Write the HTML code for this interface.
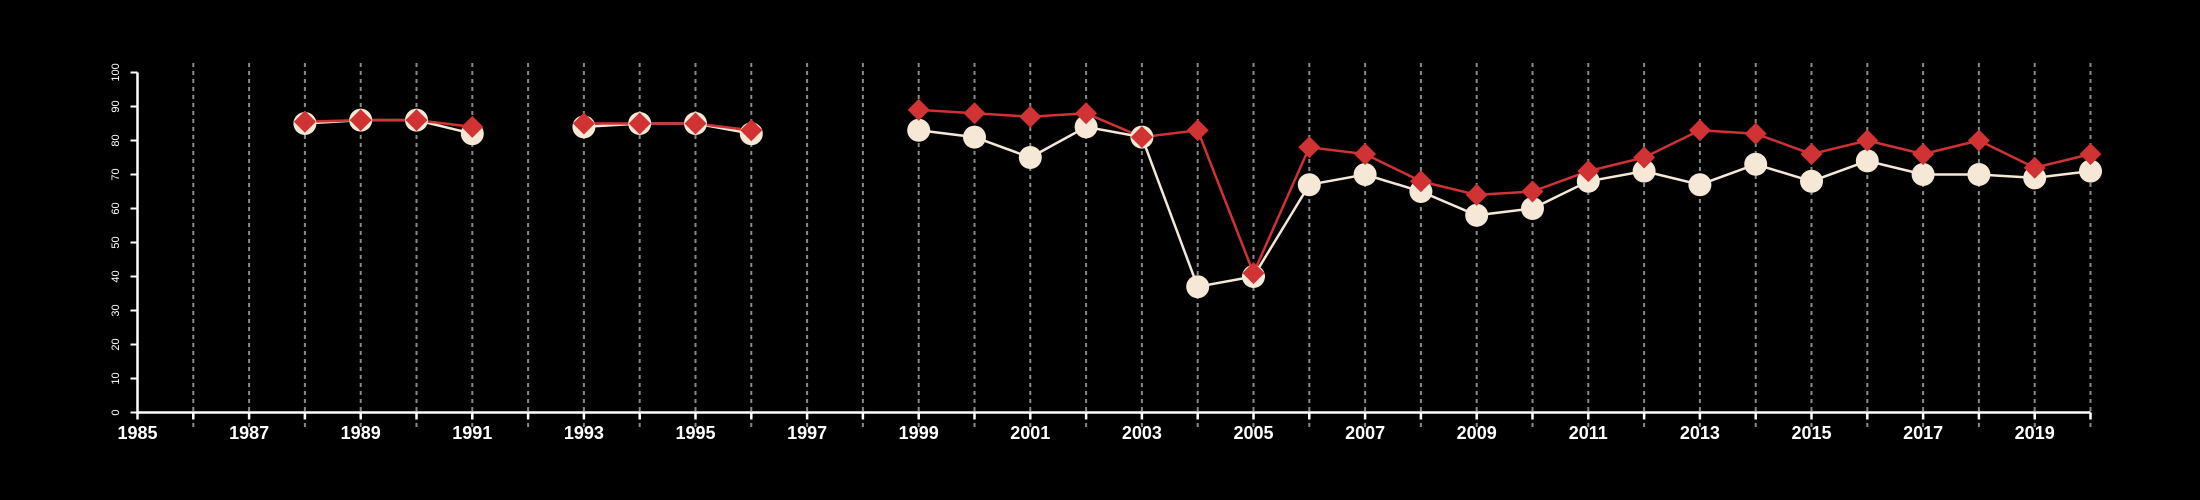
<!DOCTYPE html>
<html><head><meta charset="utf-8">
<style>
html,body{margin:0;padding:0;background:#000;width:2200px;height:500px;overflow:hidden}
svg{display:block}
text{font-family:"Liberation Sans",sans-serif;fill:#fff}
</style></head>
<body>
<svg id="chart" width="2200" height="500" xmlns="http://www.w3.org/2000/svg">
<rect width="2200" height="500" fill="#000"/>
</svg>
<script>
const years = [1988,1989,1990,1991,1993,1994,1995,1996,1999,2000,2001,2002,2003,2004,2005,2006,2007,2008,2009,2010,2011,2012,2013,2014,2015,2016,2017,2018,2019,2020];
const circleSeries = [85,86,86,82,84,85,85,82,83,81,75,84,81,37,40,67,70,65,58,60,68,71,67,73,68,74,70,70,69,71];
const diamondSeries = [85.5,86,86,84,85,85,85,83,89,88,87,88,81,83,41,78,76,68,64,65,71,75,83,82,76,80,76,80,72,76];
const yTicks = [0,10,20,30,40,50,60,70,80,90,100];
const xStart = 1985, xEnd = 2020;

const NS = "http://www.w3.org/2000/svg";
const svg = document.getElementById('chart');
const X0 = 137.5, XS = 55.8, Y0 = 412.5, YS = 3.4;
const xs = y => X0 + (y - xStart) * XS;
const ys = v => Y0 - v * YS;
function mk(tag, attrs){const e=document.createElementNS(NS,tag);for(const k in attrs)e.setAttribute(k,attrs[k]);svg.appendChild(e);return e;}

// gridlines and x ticks
for(let yr=xStart; yr<=xEnd; yr++){
  const x = xs(yr);
  if(yr>xStart){
    const g = mk('line',{x1:x,x2:x,y1:63,y2:428,stroke:'#8a8a8a','stroke-width':2,'stroke-dasharray':'4,4'});
    
    
  }
  const t = mk('line',{x1:x,x2:x,y1:Y0,y2:Y0+7,stroke:'#fff','stroke-width':2.5});
  
  
  if((yr-xStart)%2===0){
    const l = mk('text',{x:x,y:439,'text-anchor':'middle','font-size':18,'font-weight':'bold'});
    l.textContent = yr;
    
    
  }
}
// axes
const xa = mk('line',{x1:X0,x2:xs(xEnd),y1:Y0,y2:Y0,stroke:'#fff','stroke-width':2.5});


const ya = mk('line',{x1:X0,x2:X0,y1:ys(100),y2:Y0,stroke:'#fff','stroke-width':2.5});


yTicks.forEach(v=>{
  const y = ys(v);
  const t = mk('line',{x1:X0-7,x2:X0,y1:y,y2:y,stroke:'#fff','stroke-width':2});
  
  
  const l = mk('text',{x:0,y:0,'text-anchor':'middle','font-size':11,transform:`translate(119,${y}) rotate(-90)`});
  l.textContent = v;
  
  
});
// lines in segments (break on gaps)
function segments(vals){
  const segs=[];let cur=[];
  years.forEach((yr,i)=>{
    if(i>0 && yr-years[i-1]>1){segs.push(cur);cur=[];}
    cur.push([xs(yr),ys(vals[i])]);
  });
  segs.push(cur);return segs;
}
segments(circleSeries).forEach((s,i)=>{
  const p = mk('polyline',{points:s.map(q=>q.join(',')).join(' '),fill:'none',stroke:'#f5e8d6','stroke-width':2.5});
  
  
});
segments(diamondSeries).forEach((s,i)=>{
  const p = mk('polyline',{points:s.map(q=>q.join(',')).join(' '),fill:'none',stroke:'#d13234','stroke-width':2.5});
  
  
});
years.forEach((yr,i)=>{
  const c = mk('circle',{cx:xs(yr),cy:ys(circleSeries[i]),r:11.5,fill:'#f5e8d6'});
  
  
});
years.forEach((yr,i)=>{
  const x=xs(yr), y=ys(diamondSeries[i]), r=11;
  const d = mk('polygon',{points:`${x},${y-r} ${x+r},${y} ${x},${y+r} ${x-r},${y}`,fill:'#d13234'});
  
  
});
</script>
</body></html>
